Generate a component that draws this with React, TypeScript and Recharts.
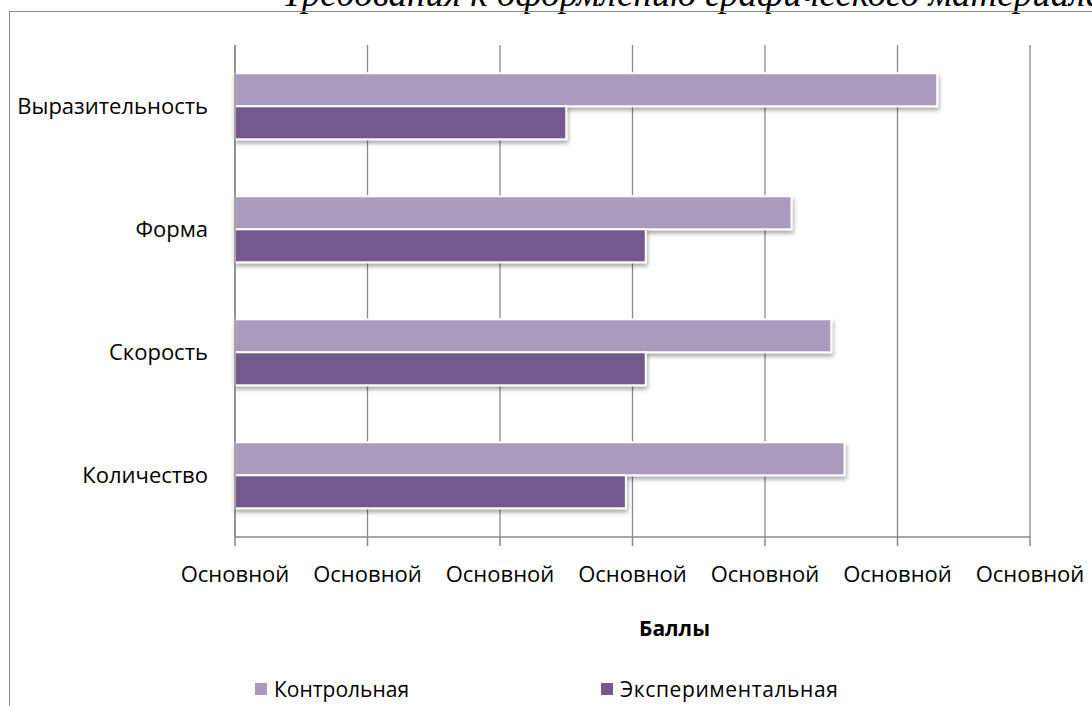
import React from 'react';
import { BarChart, Bar, XAxis, YAxis, CartesianGrid, Legend } from 'recharts';

// Categories from top to bottom, as in the picture
const categories = ['Выразительность', 'Форма', 'Скорость', 'Количество'];
const controlScores = [5.3, 4.2, 4.5, 4.6];
const experimentScores = [2.5, 3.1, 3.1, 2.95];
const xTicks = [0, 1, 2, 3, 4, 5, 6];
const tickText = 'Основной';

const CONTROL_COLOR = '#A99ABE';
const EXPERIMENT_COLOR = '#725A8F';
const FONT = '"Open Sans", "Noto Sans", sans-serif';

const chartData = categories.map((name, i) => ({
  name,
  control: controlScores[i],
  experiment: experimentScores[i],
}));

// bar with a soft drop shadow and white edge, like the Office style
const ShadowBar = (props: any) => {
  const { x, y, width, height, fill } = props;
  if (!width || width <= 0) return null;
  return (
    <g>
      <defs>
        <filter id="barShadow" x="-5%" y="-30%" width="115%" height="180%">
          <feDropShadow dx="1" dy="3" stdDeviation="2" floodColor="#000" floodOpacity="0.35" />
        </filter>
      </defs>
      <rect x={x} y={y} width={width} height={height} fill={fill} stroke="#fff" strokeWidth={2} filter="url(#barShadow)" />
    </g>
  );
};

const LegendContent = (props: any) => {
  const { payload } = props;
  return (
    <div style={{ display: 'flex', paddingLeft: 255, fontFamily: FONT, fontSize: 21, color: '#000' }}>
      {(payload || []).map((entry: any) => (
        <div key={entry.value} style={{ width: 346, display: 'flex', alignItems: 'center' }}>
          <span style={{ display: 'inline-block', width: 12, height: 12, background: entry.color, marginRight: 7 }} />
          <span style={{ letterSpacing: entry.value.length > 12 ? 0.6 : 0 }}>{entry.value}</span>
        </div>
      ))}
    </div>
  );
};

const AxisTitle = (props: any) => {
  const { viewBox } = props;
  const cx = viewBox.x + viewBox.width / 2 + 42;
  return (
    <text x={cx} y={636} textAnchor="middle" fontFamily={FONT} fontSize={21} fontWeight="bold" fill="#000">
      Баллы
    </text>
  );
};

const App: React.FC = () => {
  return (
    <div style={{ position: 'absolute', left: 0, top: 0, width: 1092, height: 706, overflow: 'hidden', background: '#fff' }}>
      <div
        style={{
          position: 'absolute',
          left: 282,
          top: -25,
          whiteSpace: 'nowrap',
          fontFamily: '"Liberation Serif", "DejaVu Serif", serif',
          fontStyle: 'italic',
          fontSize: 37,
          lineHeight: '37px',
          color: '#000',
        }}
      >
        Требования к оформлению графического материала
      </div>
      <div
        style={{
          position: 'absolute',
          left: 9,
          top: 11,
          width: 1200,
          height: 800,
          borderLeft: '1px solid #8c8c8c',
          borderTop: '1px solid #8c8c8c',
        }}
      />
      <div style={{ position: 'absolute', left: 0, top: 0 }}>
        <BarChart
          width={1092}
          height={706}
          data={chartData}
          layout="vertical"
          margin={{ top: 45, right: 62, left: 0, bottom: 0 }}
          barCategoryGap="23%"
          barGap={0}
        >
          <CartesianGrid horizontal={false} stroke="#8a8a8a" strokeWidth={1.3} />
          <XAxis
            type="number"
            domain={[0, 6]}
            ticks={xTicks}
            interval={0}
            height={169}
            tickFormatter={() => tickText}
            tick={{ fill: '#000', fontSize: 22, fontFamily: FONT }}
            axisLine={{ stroke: '#8a8a8a', strokeWidth: 1.5 }}
            tickLine={{ stroke: '#8a8a8a', strokeWidth: 1.5 }}
            tickSize={9}
            tickMargin={20}
            label={<AxisTitle />}
          />
          <YAxis
            type="category"
            dataKey="name"
            width={235}
            axisLine={{ stroke: '#8a8a8a', strokeWidth: 1.5 }}
            tickLine={false}
            tickSize={0}
            tickMargin={27}
            tick={{ fill: '#000', fontSize: 22, fontFamily: FONT }}
          />
          <Legend
            layout="horizontal"
            verticalAlign="middle"
            align="center"
            wrapperStyle={{ top: 675, left: 0, width: 1092 }}
            content={<LegendContent />}
          />
          <Bar dataKey="control" name="Контрольная" fill={CONTROL_COLOR} shape={<ShadowBar />} isAnimationActive={false} />
          <Bar dataKey="experiment" name="Экспериментальная" fill={EXPERIMENT_COLOR} shape={<ShadowBar />} isAnimationActive={false} />
        </BarChart>
      </div>
    </div>
  );
};

export default App;
